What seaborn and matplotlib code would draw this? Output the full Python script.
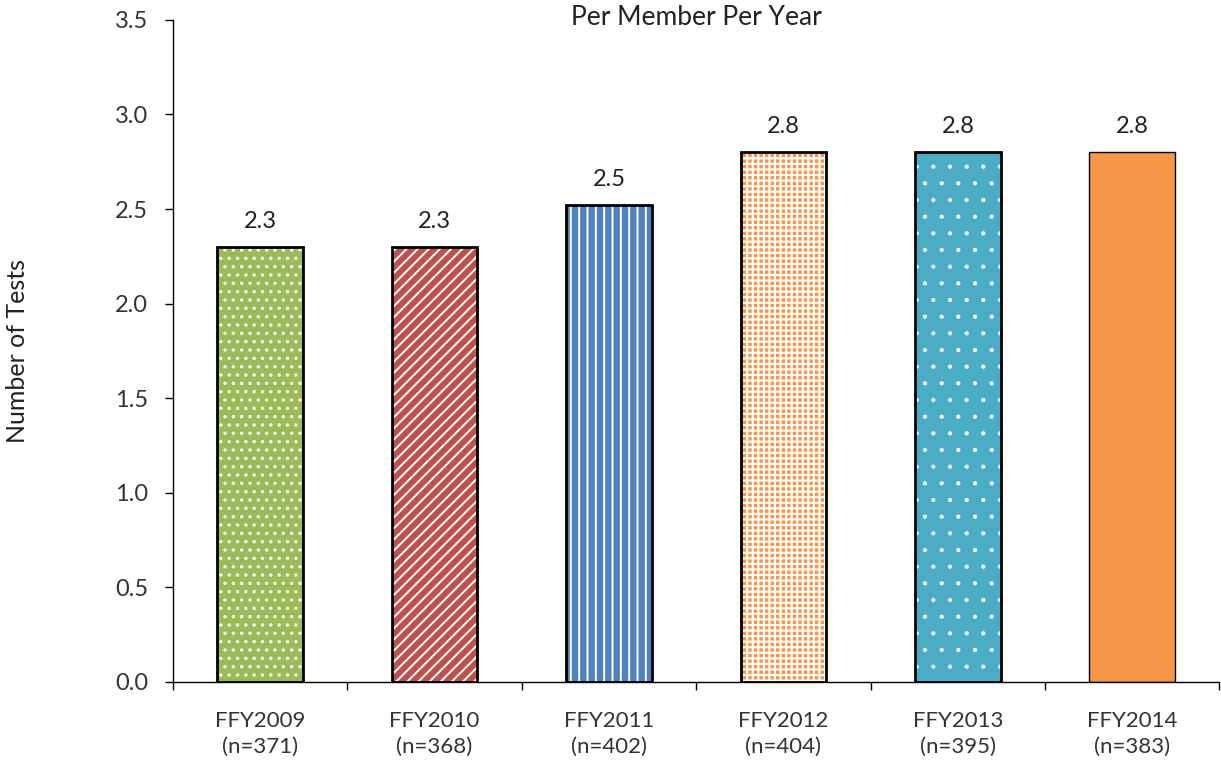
import matplotlib
matplotlib.use('Agg')
import matplotlib.pyplot as plt
import seaborn as sns
import pandas as pd

years = ["FFY2009", "FFY2010", "FFY2011", "FFY2012", "FFY2013", "FFY2014"]
n_counts = [371, 368, 402, 404, 395, 383]
tests_per_year = [2.3, 2.3, 2.52, 2.8, 2.8, 2.8]
bar_colors = ["#9BBB59", "#C0504D", "#4F81BD", "#F79646", "#4BACC6", "#F79646"]
hatches = ["..", "///", "||", "+++", ".", ""]
hatch_widths = [1.2, 1.4, 1.4, 1.5, 0.6, 1.0]

sns.set_style("white")
plt.rcParams['font.family'] = ['Lato', 'DejaVu Sans']
plt.rcParams['hatch.linewidth'] = 1.2

df = pd.DataFrame({"label": [f"{y}\n(n={n})" for y, n in zip(years, n_counts)],
                   "value": tests_per_year})

fig = plt.figure(figsize=(12.21, 7.62), dpi=100)
ax = fig.add_axes([0.1417, 0.105, 0.857, 0.869])

sns.barplot(data=df, x="label", y="value", hue="label", palette=bar_colors,
            width=0.49, legend=False, ax=ax, saturation=1)

# white hatching on top of the fills
for patch, h, hw in zip(ax.patches, hatches, hatch_widths):
    patch.set_hatch(h)
    patch.set_edgecolor("white")
    patch.set_linewidth(0)
    if hasattr(patch, "set_hatch_linewidth"):
        patch.set_hatch_linewidth(hw)

# black outlines
xs = range(len(tests_per_year))
outline_w = [2 if h else 1 for h in hatches]
ax.bar(xs, tests_per_year, width=0.49, fill=False, edgecolor="black",
       linewidth=outline_w, zorder=3)

for x, v in zip(xs, tests_per_year):
    ax.text(x, v + 0.08, f"{v:.1f}", ha="center", va="bottom", fontsize=17, color="#222222")

ax.set_ylim(0, 3.5)
ax.set_xlim(-0.5, len(years) - 0.5)
ax.set_yticks([0, 0.5, 1.0, 1.5, 2.0, 2.5, 3.0, 3.5])
ax.set_yticklabels([f"{t:.1f}" for t in ax.get_yticks()], fontsize=17, color="#333333")

ax.set_xticks([i - 0.5 for i in range(len(years) + 1)])
ax.set_xticklabels([])
ax.set_xticks(list(xs), minor=True)
ax.set_xticklabels(df["label"], minor=True, fontsize=16, color="#333333", linespacing=1.35)
ax.tick_params(axis="x", which="minor", length=0, pad=21)
ax.tick_params(axis="x", which="major", direction="out", length=6, width=1, color="black", bottom=True)
ax.tick_params(axis="y", direction="out", length=6, width=1, color="black", left=True, pad=12)

for side in ["top", "right"]:
    ax.spines[side].set_visible(False)
for side in ["left", "bottom"]:
    ax.spines[side].set_color("black")
    ax.spines[side].set_linewidth(1)

ax.set_xlabel("")
ax.set_ylabel("Number of Tests", fontsize=18, color="#222222", labelpad=62)
ax.set_title("Per Member Per Year", fontsize=19, color="#222222", pad=-4)

fig.savefig("out.png", dpi=100)
